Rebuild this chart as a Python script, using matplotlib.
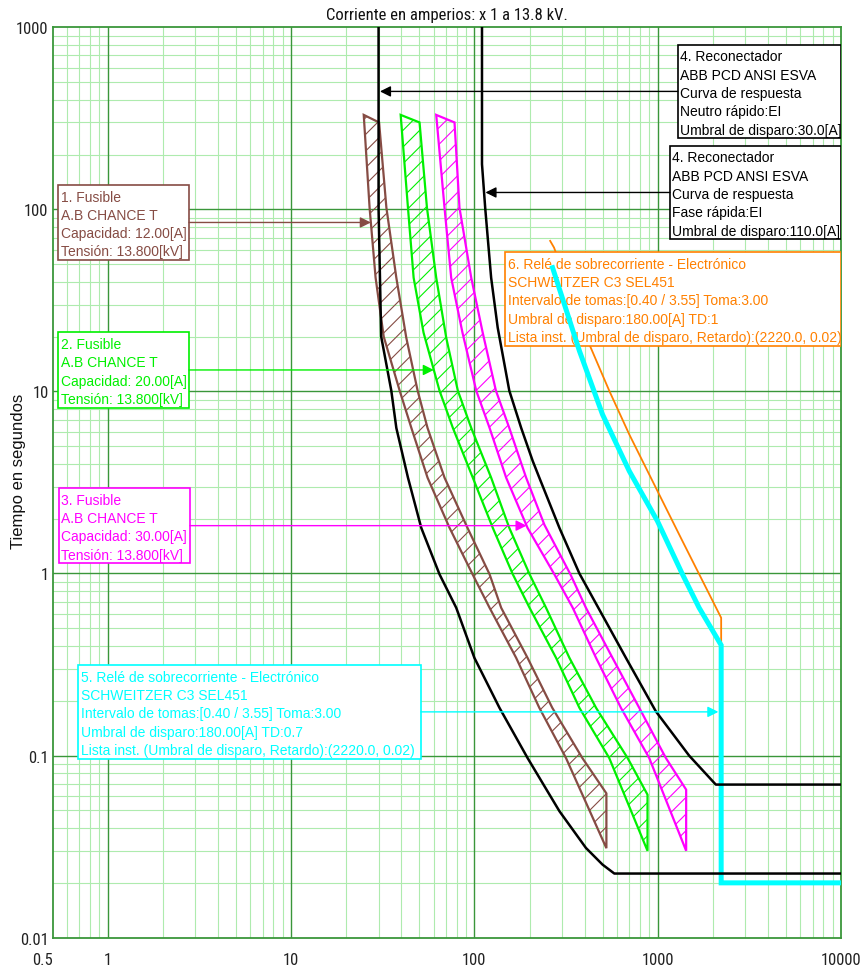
"""Time-current coordination chart: fuses, recloser and relays at 13.8 kV."""
import numpy as np
import matplotlib.pyplot as plt
from matplotlib import font_manager
from matplotlib.patches import Polygon, Rectangle

# fuse 1, A.B CHANCE T 12 A: minimum melting / total clearing (A, s)
F12_MM_I = [24.9, 26.8, 28.9, 32.0, 39.1, 45.3, 55.5, 73.2, 97.7, 121, 169, 226, 316, 525]
F12_MM_T = [330, 102, 42.1, 20.0, 10.1, 6.3, 3.36, 1.78, 0.99, 0.648, 0.344, 0.183, 0.097, 0.031]
F12_TC_I = [30.2, 33.1, 37.5, 42.5, 49.0, 55.5, 68.7, 91.7, 121, 140, 195, 266, 388, 525]
F12_TC_T = [300, 102, 42.1, 19.7, 10.1, 6.3, 3.36, 1.78, 0.99, 0.648, 0.344, 0.183, 0.097, 0.062]

# fuse 2, 20 A
F20_MM_I = [39.6, 43.4, 46.6, 52.8, 64.5, 76.3, 98.0, 126, 162, 200, 279, 374, 544, 880]
F20_MM_T = [330, 102, 42.1, 21.0, 10.1, 6.3, 3.36, 1.78, 0.99, 0.648, 0.344, 0.183, 0.097, 0.030]
F20_TC_I = [50.2, 55.1, 61.9, 70.2, 81.2, 96.1, 123.4, 155, 200, 246, 330, 461, 685, 880]
F20_TC_T = [300, 102, 42.1, 19.7, 10.1, 6.3, 3.36, 1.78, 0.99, 0.648, 0.344, 0.183, 0.097, 0.061]

# fuse 3, 30 A
F30_MM_I = [61.9, 68.7, 74.7, 86.1, 102.3, 121, 149, 195, 273, 344, 461, 630, 899, 1430]
F30_MM_T = [330, 102, 42.1, 21.0, 10.1, 6.3, 3.36, 1.78, 0.99, 0.648, 0.344, 0.183, 0.097, 0.030]
F30_TC_I = [77.9, 82.9, 96.1, 111, 131, 155, 191.5, 241, 334, 406, 567, 793, 1108, 1430]
F30_TC_T = [300, 102, 42.1, 21.0, 10.1, 6.3, 3.36, 1.85, 0.99, 0.648, 0.344, 0.183, 0.097, 0.065]

# recloser ABB PCD, fast neutral (pickup 30 A) and fast phase (pickup 110 A)
NEUTRO_I = [30, 30, 31.0, 35.2, 37.5, 43.4, 51.3, 64.5, 79.6, 100, 137, 195, 291, 406, 500, 580, 10000]
NEUTRO_T = [2000, 100, 20.0, 10.1, 6.3, 3.36, 1.78, 0.99, 0.648, 0.344, 0.183, 0.097, 0.0495,
            0.0311, 0.0252, 0.0225, 0.0225]
FASE_I = [110, 110, 114.5, 123.4, 134, 155, 180, 208, 226, 291, 374, 545, 671, 977, 1484, 2075, 10000]
FASE_T = [2000, 177, 102, 42.1, 22.4, 10.1, 6.3, 4.15, 3.36, 1.78, 1.0, 0.503, 0.344, 0.175,
          0.100, 0.0693, 0.0693]

# SEL451 relays: inverse part, then instantaneous element (2220 A, 0.02 s)
INST_PICKUP = 2220.0
INST_DELAY = 0.02
R5_I = [267, 374, 500, 700, 997, 1365, 1683, INST_PICKUP, INST_PICKUP, 10000]
R5_T = [47.8, 16.7, 7.47, 3.65, 1.94, 0.99, 0.648, 0.404, INST_DELAY, INST_DELAY]
R6_I = [259, 272, 424, 545, 700, 997, 1365, INST_PICKUP, INST_PICKUP]
R6_T = [67.1, 61.6, 18.1, 10.05, 5.80, 2.84, 1.507, 0.571, 0.42]

X_TICKS = [0.5, 1, 10, 100, 1000, 10000]
X_LABELS = ["0.5", "1", "10", "100", "1000", "10000"]
Y_TICKS = [0.01, 0.1, 1, 10, 100, 1000]
Y_LABELS = ["0.01", "0.1", "1", "10", "100", "1000"]

BROWN = "#864c44"
GREEN = "#00f000"
MAGENTA = "#ff00ff"
CYAN = "#00ffff"
ORANGE = "#ff8000"
GRID_MAJOR = "#3a963a"
GRID_MINOR = "#aeebae"

# axis text uses a narrow face when one is available
installed = {f.name for f in font_manager.fontManager.ttflist}
NARROW, NARROW_SIZE = "Liberation Sans", 10.5
for name in ["Liberation Sans Narrow", "Arial Narrow", "Roboto Condensed", "DejaVu Sans Condensed"]:
    if name in installed:
        NARROW, NARROW_SIZE = name, 12
        break
NOTE_FONT = "Liberation Sans"

fig = plt.figure(figsize=(8.62, 9.70), dpi=100)
ax = fig.add_axes([0.0611, 0.0323, 0.9145, 0.9386])
ax.set_xscale("log")
ax.set_yscale("log")
ax.set_xlim(0.5, 10000)
ax.set_ylim(0.01, 1000)

# log paper: light lines at 2..9, dark lines at each decade
minor_x = [m * 10.0 ** e for e in range(-1, 4) for m in range(2, 10) if 0.5 < m * 10.0 ** e < 10000]
minor_y = [m * 10.0 ** e for e in range(-2, 3) for m in range(2, 10)]
for v in minor_x:
    ax.axvline(v, color=GRID_MINOR, lw=0.8, zorder=0.5)
for v in minor_y:
    ax.axhline(v, color=GRID_MINOR, lw=0.8, zorder=0.5)
for v in [1, 10, 100, 1000]:
    ax.axvline(v, color=GRID_MAJOR, lw=1.0, zorder=0.6)
for v in [0.1, 1, 10, 100]:
    ax.axhline(v, color=GRID_MAJOR, lw=1.0, zorder=0.6)
for s in ax.spines.values():
    s.set_color(GRID_MAJOR)
    s.set_linewidth(1.3)

ax.set_xticks(X_TICKS, X_LABELS)
ax.set_yticks(Y_TICKS, Y_LABELS)
ax.minorticks_off()
ax.tick_params(length=0, labelsize=NARROW_SIZE, labelcolor="#222222")
ax.tick_params(axis="x", pad=10)
ax.tick_params(axis="y", pad=3)
for lab in ax.get_xticklabels() + ax.get_yticklabels():
    lab.set_family(NARROW)
ax.get_xticklabels()[0].set_horizontalalignment("right")


def fuse_band(mm_i, mm_t, tc_i, tc_t, color):
    verts = list(zip(mm_i, mm_t)) + list(zip(tc_i[::-1], tc_t[::-1]))
    ax.add_patch(Polygon(verts, closed=True, facecolor="none", edgecolor=color,
                         hatch="//", linewidth=0, zorder=2))
    ax.add_patch(Polygon(verts, closed=True, fill=False, edgecolor=color,
                         linewidth=1.6, joinstyle="miter", zorder=3))


plt.rcParams["hatch.linewidth"] = 0.8
fuse_band(F12_MM_I, F12_MM_T, F12_TC_I, F12_TC_T, BROWN)
fuse_band(F20_MM_I, F20_MM_T, F20_TC_I, F20_TC_T, GREEN)
fuse_band(F30_MM_I, F30_MM_T, F30_TC_I, F30_TC_T, MAGENTA)

ax.plot(R6_I, R6_T, color=ORANGE, lw=1.3, zorder=3)
ax.plot(R5_I, R5_T, color=CYAN, lw=3.6, zorder=6, solid_joinstyle="miter")
ax.plot(NEUTRO_I, NEUTRO_T, color="black", lw=1.8, zorder=6.5)
ax.plot(FASE_I, FASE_T, color="black", lw=1.8, zorder=6.5)

PAD = 0.0113
STEP = 0.0201


def note(x0, x1, top, lines, color):
    h = 2 * PAD + (len(lines) - 1) * STEP
    ax.add_patch(Rectangle((x0, top - h), x1 - x0, h, transform=ax.transAxes,
                           facecolor="white", edgecolor=color, lw=1.2, zorder=4))
    for k, s in enumerate(lines):
        ax.text(x0 + 0.003, top - PAD - k * STEP, s, transform=ax.transAxes,
                color=color, fontsize=10, family=NOTE_FONT, va="center_baseline",
                zorder=5, clip_on=True)
    return top - h / 2


def current_at(t, cur_i, cur_t):
    li = np.log10(cur_i)[::-1]
    lt = np.log10(cur_t)[::-1]
    return 10 ** np.interp(np.log10(t), lt, li)


def pointer(x_from, y_from, current, color, shrink=0.0):
    t = 10 ** (-2 + 5 * y_from)
    ax.annotate("", xy=(current(t), t), xycoords="data",
                xytext=(x_from, y_from), textcoords="axes fraction",
                arrowprops=dict(arrowstyle="-|>", color=color, lw=1.0,
                                mutation_scale=16, shrinkA=0, shrinkB=shrink),
                zorder=7)


fuse_lines = ["A.B CHANCE T", "Capacidad: {}[A]", "Tensión: 13.800[kV]"]

yc = note(0.007, 0.173, 0.827, ["1. Fusible", fuse_lines[0],
                                fuse_lines[1].format("12.00"), fuse_lines[2]], BROWN)
pointer(0.173, yc, lambda t: current_at(t, F12_MM_I, F12_MM_T), BROWN)

yc = note(0.007, 0.173, 0.665, ["2. Fusible", fuse_lines[0],
                                fuse_lines[1].format("20.00"), fuse_lines[2]], GREEN)
pointer(0.173, yc, lambda t: current_at(t, F20_MM_I, F20_MM_T), GREEN)

yc = note(0.008, 0.174, 0.494, ["3. Fusible", fuse_lines[0],
                                fuse_lines[1].format("30.00"), fuse_lines[2]], MAGENTA)
pointer(0.174, yc, lambda t: current_at(t, F30_MM_I, F30_MM_T), MAGENTA)

yc = note(0.793, 1.0, 0.981, ["4. Reconectador", "ABB PCD ANSI ESVA", "Curva de respuesta",
                              "Neutro rápido:EI", "Umbral de disparo:30.0[A]"], "black")
pointer(0.793, yc, lambda t: current_at(t, NEUTRO_I, NEUTRO_T), "black", shrink=1.0)

yc = note(0.783, 1.0, 0.870, ["4. Reconectador", "ABB PCD ANSI ESVA", "Curva de respuesta",
                              "Fase rápida:EI", "Umbral de disparo:110.0[A]"], "black")
pointer(0.783, yc, lambda t: current_at(t, FASE_I, FASE_T), "black", shrink=1.0)

relay_lines = ["Relé de sobrecorriente - Electrónico", "SCHWEITZER C3 SEL451",
               "Intervalo de tomas:[0.40 / 3.55] Toma:3.00"]
inst_line = "Lista inst. (Umbral de disparo, Retardo):({:.1f}, {:.2f})".format(INST_PICKUP, INST_DELAY)

note(0.574, 1.0, 0.753, ["6. " + relay_lines[0], relay_lines[1], relay_lines[2],
                         "Umbral de disparo:180.00[A] TD:1", inst_line], ORANGE)

yc = note(0.0325, 0.467, 0.2995, ["5. " + relay_lines[0], relay_lines[1], relay_lines[2],
                                  "Umbral de disparo:180.00[A] TD:0.7", inst_line], CYAN)
pointer(0.467, yc, lambda t: INST_PICKUP, CYAN, shrink=2.0)

fig.text(0.5186, 0.9845, "Corriente en amperios: x 1 a 13.8 kV.", ha="center", va="center",
         family=NARROW, fontsize=NARROW_SIZE, color="#111111")
fig.text(0.022, 0.5144, "Tiempo en segundos", rotation=90, ha="center", va="center",
         family="Liberation Sans", fontsize=12, color="#111111")

fig.savefig("out.png", dpi=100, facecolor="white")
